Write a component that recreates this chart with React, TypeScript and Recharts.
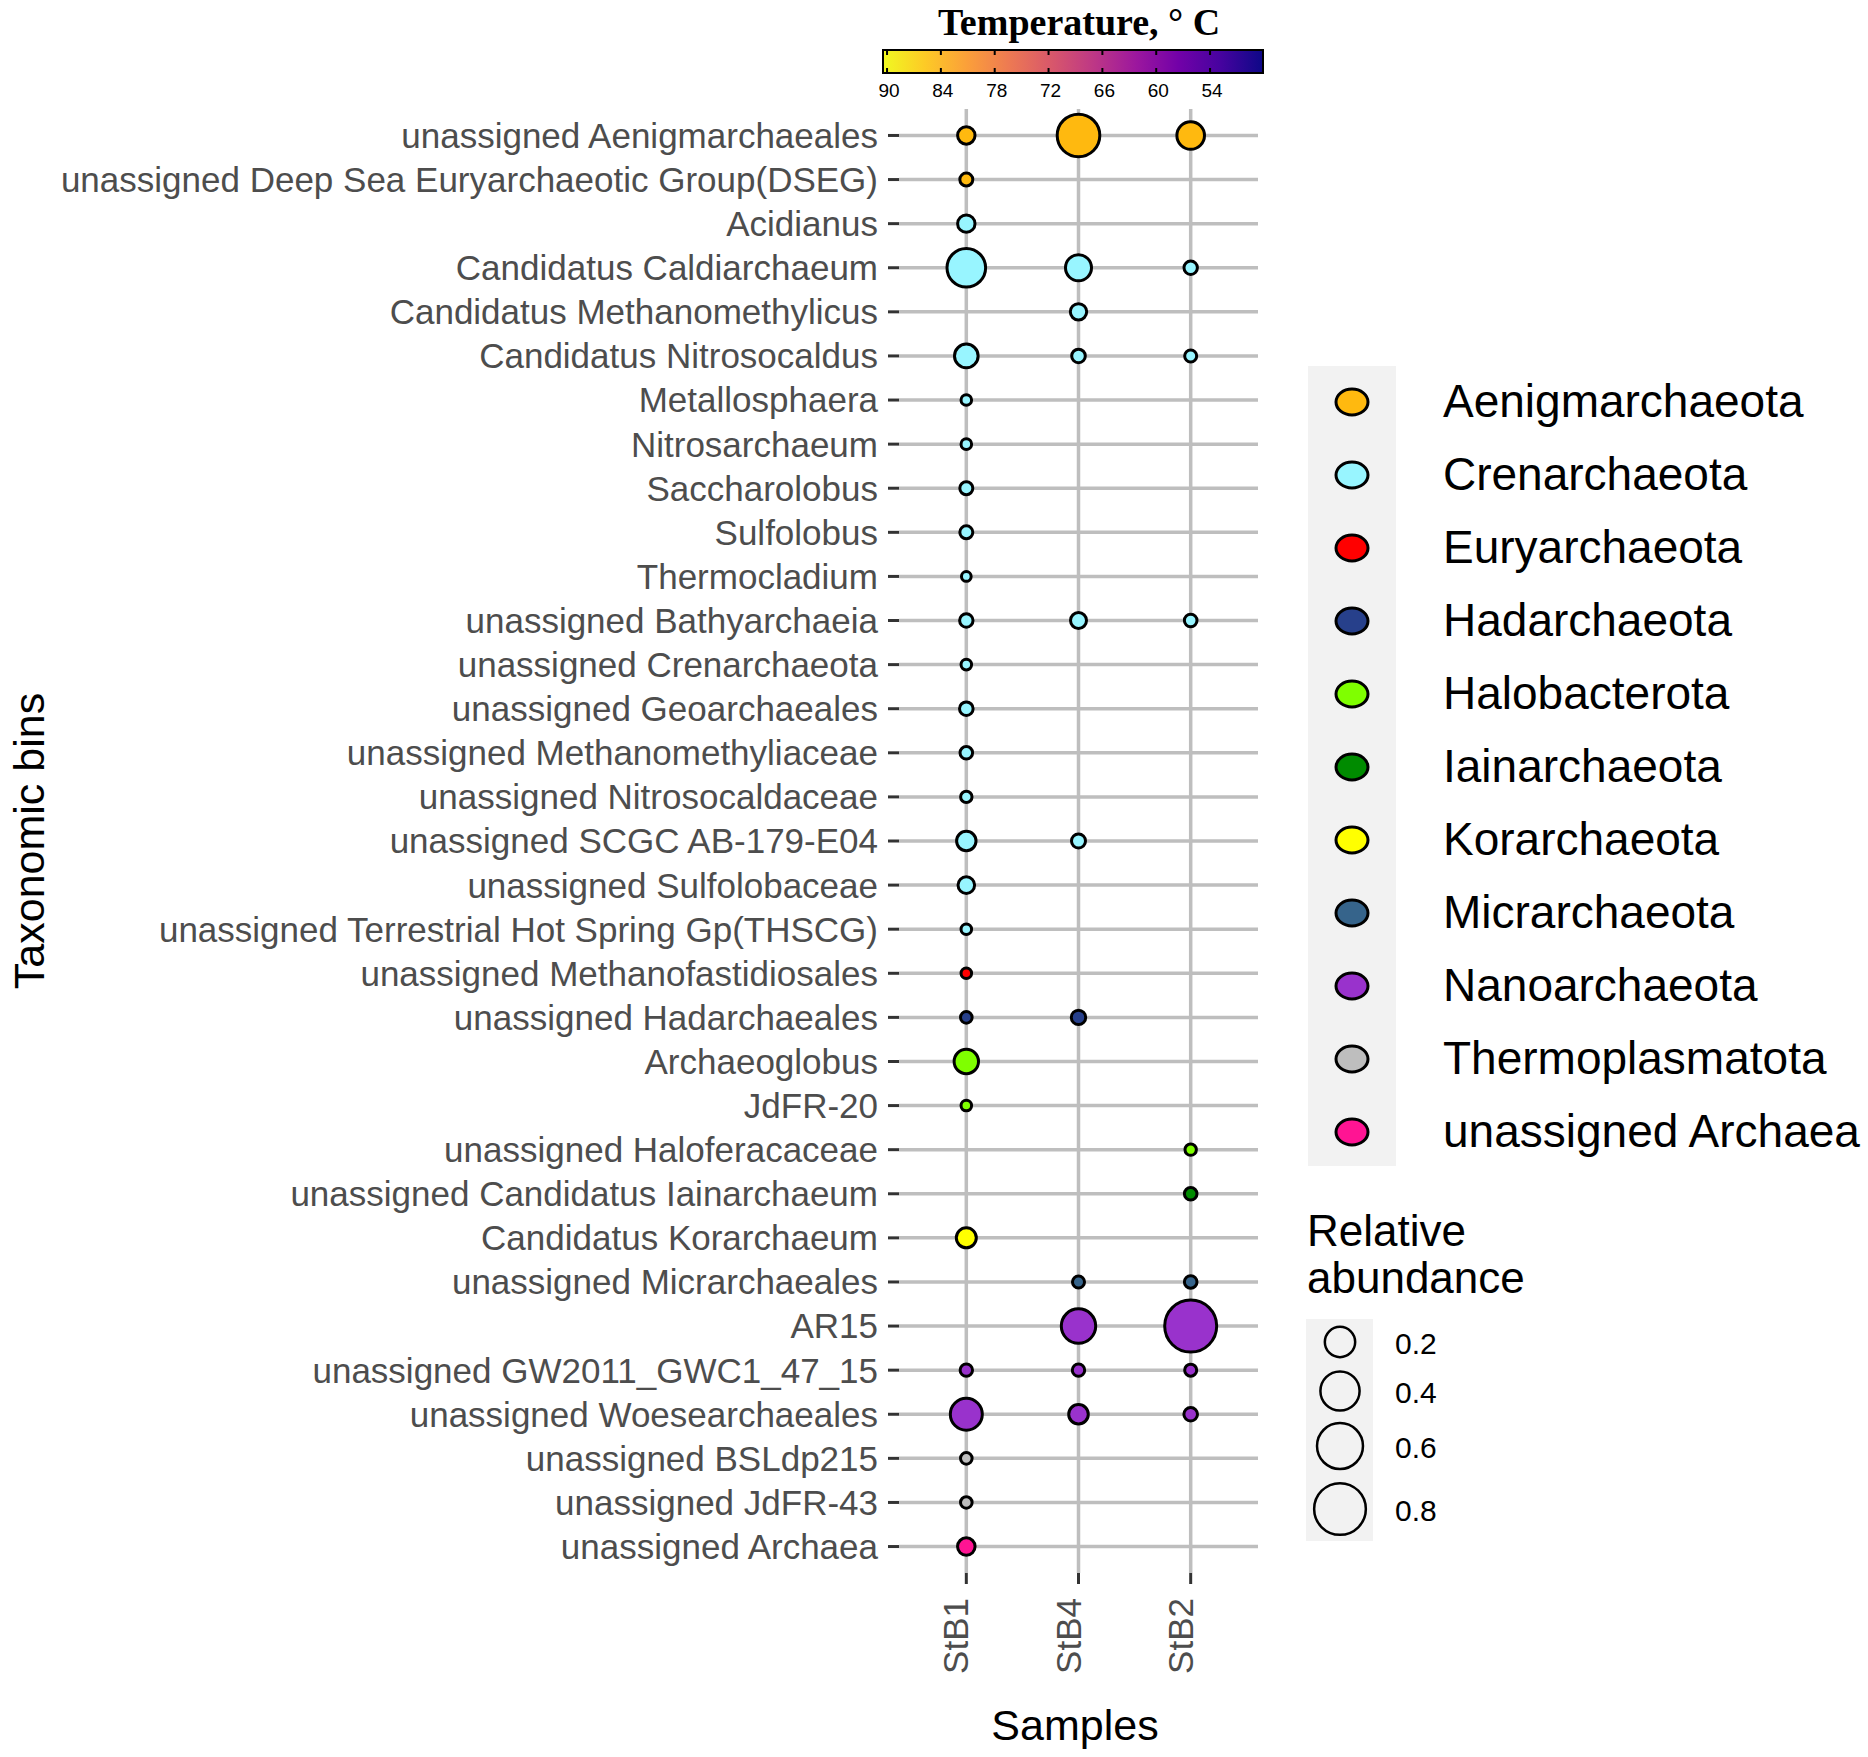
import { CartesianGrid, Scatter, ScatterChart, XAxis, YAxis, ZAxis } from "recharts";

const taxa = [
  "unassigned Aenigmarchaeales",
  "unassigned Deep Sea Euryarchaeotic Group(DSEG)",
  "Acidianus",
  "Candidatus Caldiarchaeum",
  "Candidatus Methanomethylicus",
  "Candidatus Nitrosocaldus",
  "Metallosphaera",
  "Nitrosarchaeum",
  "Saccharolobus",
  "Sulfolobus",
  "Thermocladium",
  "unassigned Bathyarchaeia",
  "unassigned Crenarchaeota",
  "unassigned Geoarchaeales",
  "unassigned Methanomethyliaceae",
  "unassigned Nitrosocaldaceae",
  "unassigned SCGC AB-179-E04",
  "unassigned Sulfolobaceae",
  "unassigned Terrestrial Hot Spring Gp(THSCG)",
  "unassigned Methanofastidiosales",
  "unassigned Hadarchaeales",
  "Archaeoglobus",
  "JdFR-20",
  "unassigned Haloferacaceae",
  "unassigned Candidatus Iainarchaeum",
  "Candidatus Korarchaeum",
  "unassigned Micrarchaeales",
  "AR15",
  "unassigned GW2011_GWC1_47_15",
  "unassigned Woesearchaeales",
  "unassigned BSLdp215",
  "unassigned JdFR-43",
  "unassigned Archaea"
];

const taxonPhylum = [
  "Aenigmarchaeota", "Aenigmarchaeota",
  "Crenarchaeota", "Crenarchaeota", "Crenarchaeota", "Crenarchaeota", "Crenarchaeota",
  "Crenarchaeota", "Crenarchaeota", "Crenarchaeota", "Crenarchaeota", "Crenarchaeota",
  "Crenarchaeota", "Crenarchaeota", "Crenarchaeota", "Crenarchaeota", "Crenarchaeota",
  "Crenarchaeota", "Crenarchaeota",
  "Euryarchaeota",
  "Hadarchaeota",
  "Halobacterota", "Halobacterota", "Halobacterota",
  "Iainarchaeota",
  "Korarchaeota",
  "Micrarchaeota",
  "Nanoarchaeota", "Nanoarchaeota", "Nanoarchaeota",
  "Thermoplasmatota", "Thermoplasmatota",
  "unassigned Archaea"
];

const samples = ["StB1", "StB4", "StB2"];

// relative abundance per taxon (same order as taxa), null = absent
const abundanceStB1 = [
  0.031, 0.007, 0.031, 0.385, null, 0.094, 0.0011, 0.0011, 0.007, 0.007, 0.0002,
  0.0085, 0.0011, 0.0093, 0.0057, 0.0025, 0.0475, 0.0254, 0.0011, 0.0011, 0.003,
  0.104, 0.0011, null, null, 0.053, null, null, 0.005, 0.232, 0.003, 0.003, 0.032
];
const abundanceStB4 = [
  0.496, null, null, 0.127, 0.024, 0.0093, null, null, null, null, null,
  0.0215, null, null, null, null, 0.011, null, null, null, 0.0128,
  null, null, null, null, null, 0.004, 0.283, 0.005, 0.049, null, null, null
];
const abundanceStB2 = [
  0.152, null, null, 0.0085, null, 0.004, null, null, null, null, null,
  0.0057, null, null, null, null, null, null, null, null, null,
  null, null, 0.0025, 0.0057, null, 0.0057, 0.812, 0.004, 0.0093, null, null, null
];

const phyla = [
  "Aenigmarchaeota",
  "Crenarchaeota",
  "Euryarchaeota",
  "Hadarchaeota",
  "Halobacterota",
  "Iainarchaeota",
  "Korarchaeota",
  "Micrarchaeota",
  "Nanoarchaeota",
  "Thermoplasmatota",
  "unassigned Archaea"
];
const phylumColors = [
  "#FFB90F", "#98F5FF", "#FF0000", "#27408B", "#7FFF00", "#008B00",
  "#FFFF00", "#36648B", "#9932CC", "#BEBEBE", "#FF1493"
];

const temperatureTicks = [90, 84, 78, 72, 66, 60, 54];
const sizeBreaks = [0.2, 0.4, 0.6, 0.8];

const plasmaStops = [
  "#f0f921", "#fdca26", "#fb9f3a", "#ed7953", "#d8576b",
  "#bd3786", "#9c179e", "#7201a8", "#46039f", "#0d0887"
];

const SANS = "'Liberation Sans', Arial, sans-serif";
const ABUND_MAX = 0.85;
const R_MIN = 4.5;
const R_MAX = 26.5;

const abundanceBySample = [abundanceStB1, abundanceStB4, abundanceStB2];

const points = abundanceBySample.flatMap((values, s) =>
  values
    .map((v, t) => ({ sample: s, taxon: t, abundance: v, phylum: taxonPhylum[t] }))
    .filter((p) => p.abundance !== null)
);

const radiusFor = (v: number) => R_MIN + (R_MAX - R_MIN) * Math.sqrt(v / ABUND_MAX);

function SampleTick({ x, y, payload }: any) {
  return (
    <text
      x={x + 2}
      y={y}
      transform={`rotate(-90, ${x + 2}, ${y})`}
      textAnchor="end"
      fontFamily={SANS}
      fontSize={35}
      fill="#4D4D4D"
    >
      {samples[payload.value]}
    </text>
  );
}

function TemperatureBar() {
  const x0 = 883;
  const x1 = 1263;
  const tHi = 90.45;
  const tLo = 48.1;
  const tx = (t: number) => x0 + ((tHi - t) / (tHi - tLo)) * (x1 - x0);
  return (
    <g>
      <defs>
        <linearGradient id="plasma" x1="0" x2="1" y1="0" y2="0">
          {plasmaStops.map((c, i) => (
            <stop key={c} offset={i / (plasmaStops.length - 1)} stopColor={c} />
          ))}
        </linearGradient>
      </defs>
      <text x={938} y={35} fontFamily="'Liberation Serif', 'Times New Roman', serif" fontWeight="bold" fontSize={38} fill="#000">
        Temperature, ° C
      </text>
      <rect x={x0} y={50} width={x1 - x0} height={23} fill="url(#plasma)" stroke="#000" strokeWidth={2} />
      {temperatureTicks.map((t) => (
        <g key={t}>
          <line x1={tx(t)} x2={tx(t)} y1={51} y2={55} stroke="#000" strokeWidth={2} />
          <line x1={tx(t)} x2={tx(t)} y1={68} y2={72} stroke="#000" strokeWidth={2} />
          <text x={tx(t) + 2} y={97} textAnchor="middle" fontFamily={SANS} fontSize={19} fill="#000">
            {t}
          </text>
        </g>
      ))}
    </g>
  );
}

function PhylumLegend() {
  return (
    <g>
      <rect x={1308} y={366} width={88} height={800} fill="#F2F2F2" />
      {phyla.map((p, i) => {
        const cy = 402 + i * 73;
        return (
          <g key={p}>
            <ellipse cx={1352} cy={cy} rx={16} ry={13} fill={phylumColors[i]} stroke="#000" strokeWidth={3} />
            <text x={1443} y={cy + 15} fontFamily={SANS} fontSize={46} fill="#000">
              {p}
            </text>
          </g>
        );
      })}
    </g>
  );
}

function SizeLegend() {
  const ys = [1342, 1391, 1446, 1509];
  return (
    <g>
      <text x={1307} y={1246} fontFamily={SANS} fontSize={44} fill="#000">Relative</text>
      <text x={1307} y={1293} fontFamily={SANS} fontSize={44} fill="#000">abundance</text>
      <rect x={1306} y={1319} width={67} height={222} fill="#F2F2F2" />
      {sizeBreaks.map((b, i) => (
        <g key={b}>
          <circle cx={1340} cy={ys[i]} r={radiusFor(b)} fill="none" stroke="#000" strokeWidth={2.5} />
          <text x={1395} y={ys[i] + 12} fontFamily={SANS} fontSize={30} fill="#000">
            {b}
          </text>
        </g>
      ))}
    </g>
  );
}

export default function App() {
  return (
    <div style={{ position: "absolute", left: 0, top: 0, width: 1868, height: 1757, background: "#fff" }}>
      <ScatterChart width={1868} height={1757} margin={{ top: 109, right: 610, bottom: 0, left: 0 }}>
        <CartesianGrid stroke="#BEBEBE" strokeWidth={3.5} syncWithTicks />
        <XAxis
          type="number"
          dataKey="sample"
          domain={[-0.6, 2.6]}
          ticks={[0, 1, 2]}
          interval={0}
          height={184}
          axisLine={false}
          tickSize={11}
          tickMargin={14}
          tickLine={{ stroke: "#333333", strokeWidth: 3 }}
          tick={<SampleTick />}
        />
        <YAxis
          type="number"
          dataKey="taxon"
          domain={[-0.6, 32.6]}
          ticks={taxa.map((_, i) => i)}
          interval={0}
          reversed
          width={899}
          axisLine={false}
          tickSize={11}
          tickMargin={10}
          tickLine={{ stroke: "#333333", strokeWidth: 3 }}
          tickFormatter={(i: number) => taxa[i]}
          tick={{ fontFamily: SANS, fontSize: 35, fill: "#4D4D4D" }}
        />
        <ZAxis type="number" dataKey="abundance" domain={[0, ABUND_MAX]} range={[R_MIN, R_MAX]} scale="sqrt" />
        {phyla.map((p, i) => (
          <Scatter
            key={p}
            name={p}
            data={points.filter((pt) => pt.phylum === p)}
            isAnimationActive={false}
            shape={(props: any) => (
              <circle
                cx={props.cx}
                cy={props.cy}
                r={props.size ?? props.width / 2}
                fill={phylumColors[i]}
                stroke="#000"
                strokeWidth={3}
              />
            )}
          />
        ))}
      </ScatterChart>
      <svg width={1868} height={1757} style={{ position: "absolute", left: 0, top: 0, pointerEvents: "none" }}>
        <TemperatureBar />
        <PhylumLegend />
        <SizeLegend />
        <text x={1075} y={1740} textAnchor="middle" fontFamily={SANS} fontSize={43} fill="#000">
          Samples
        </text>
        <text
          x={44}
          y={841}
          transform="rotate(-90, 44, 841)"
          textAnchor="middle"
          fontFamily={SANS}
          fontSize={43}
          fill="#000"
        >
          Taxonomic bins
        </text>
      </svg>
    </div>
  );
}
